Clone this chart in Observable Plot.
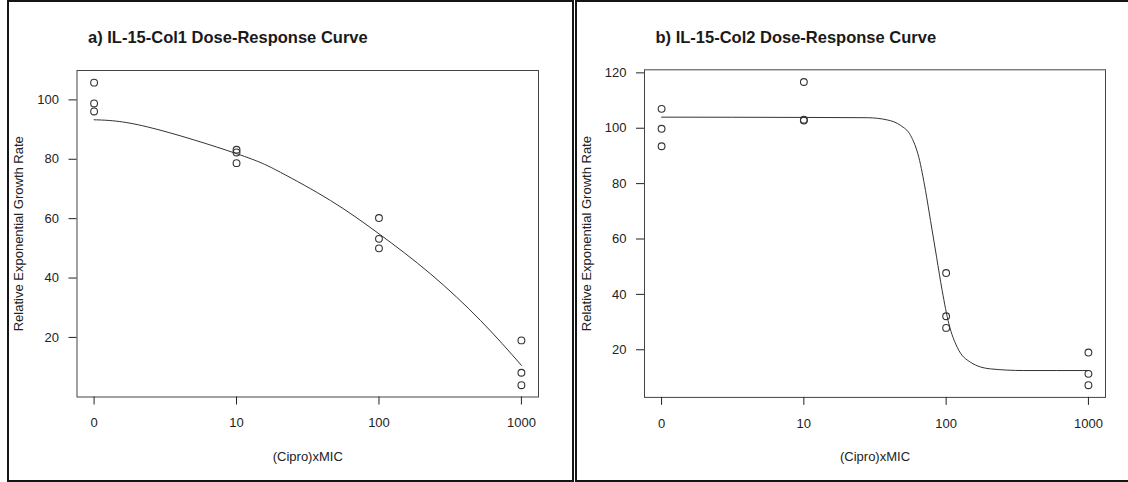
<!DOCTYPE html>
<html><head><meta charset="utf-8">
<script src="https://cdn.jsdelivr.net/npm/d3@7"></script>
<script src="https://cdn.jsdelivr.net/npm/@observablehq/plot@0.6"></script>
<style>
html,body{margin:0;padding:0;background:#fff;overflow:hidden;}
#root{position:relative;width:1128px;height:482px;overflow:hidden;font-family:"Liberation Sans",Arial,Helvetica,sans-serif;background:#fff;}
.panel{position:absolute;top:0;}
.border{position:absolute;top:0;height:482px;box-sizing:border-box;border:2px solid #151515;pointer-events:none;}
.title{position:absolute;font-weight:bold;font-size:16.5px;line-height:19px;color:#1a1a1a;white-space:nowrap;}
</style></head><body><div id="root"></div>
<script>
// x-axis categories (dose, xMIC) and their tick labels
const doseTicks = [0, 10, 100, 1000];
const doseTickLabels = ["0", "10", "100", "1000"];
// observations (3 replicates per dose)
const doses = [0, 0, 0, 10, 10, 10, 100, 100, 100, 1000, 1000, 1000];
const responseA = [105.8, 98.8, 96.1, 83.2, 82.3, 78.7, 60.2, 53.2, 50.0, 19.0, 8.1, 3.9];
const responseB = [107.0, 99.8, 93.5, 116.7, 103.1, 102.8, 47.7, 32.1, 27.9, 19.0, 11.3, 7.2];
// fitted curves (log10 dose position, response)
const curveA_logDose = [0, 0.375, 1, 1.309, 1.66, 2, 2.362, 2.713, 3];
const curveA_response = [93.3, 90.9, 81.9, 75.6, 66.1, 54.9, 41.4, 25.7, 10.6];
const curveB_logDose = [0, 1, 1.446, 1.586, 1.68, 1.75, 1.808, 1.855, 1.89, 1.933, 1.972, 2.019, 2.078, 2.171, 2.312, 2.546, 3];
const curveB_response = [104.0, 103.9, 103.8, 103.0, 101.0, 97.4, 89.5, 77.5, 66.7, 53.4, 41.4, 29.4, 20.9, 15.5, 13.1, 12.5, 12.5];
// y ticks
const yTicksA = [20, 40, 60, 80, 100];
const yTicksB = [20, 40, 60, 80, 100, 120];
const titleA = "a) IL-15-Col1 Dose-Response Curve";
const titleB = "b) IL-15-Col2 Dose-Response Curve";
const xLabel = "(Cipro)xMIC";
const yLabel = "Relative Exponential Growth Rate";

const FONT = '"Liberation Sans", Arial, Helvetica, sans-serif';
function xpos(d) { return d === 0 ? 0 : Math.log10(d); }

const root = document.getElementById("root");

function makePanel(o) {
  const pts = doses.map((d, i) => ({x: xpos(d), y: o.resp[i]}));
  const curve = o.cx.map((x, i) => ({x, y: o.cy[i]}));
  const chart = Plot.plot({
    width: o.width, height: 482,
    marginLeft: o.mL, marginRight: o.mR, marginTop: o.mT, marginBottom: o.mB,
    style: {fontFamily: FONT, fontSize: "13px", color: "#222", background: "transparent", overflow: "visible"},
    x: {domain: [-0.12, 3.12]},
    y: {domain: o.yDomain},
    marks: [
      Plot.frame({stroke: "#444", strokeWidth: 1}),
      Plot.axisX({ticks: doseTicks.map(xpos), tickFormat: d => doseTickLabels[Math.round(d)],
        tickSize: 8, tickPadding: 13, fontSize: 13, label: xLabel, labelAnchor: "center", labelOffset: 64, labelArrow: "none"}),
      Plot.axisY({ticks: o.yTicks, tickSize: 8, tickPadding: 10, fontSize: 13,
        label: yLabel, labelAnchor: "center", labelOffset: 63, labelArrow: "none"}),
      Plot.line(curve, {x: "x", y: "y", curve: o.curve, stroke: "#333", strokeWidth: 1}),
      Plot.dot(pts, {x: "x", y: "y", r: 3.4, stroke: "#333", strokeWidth: 1.1, fill: "none"})
    ]
  });
  const wrap = document.createElement("div");
  wrap.className = "panel";
  wrap.style.left = o.left + "px";
  wrap.appendChild(chart);
  root.appendChild(wrap);
  const t = document.createElement("div");
  t.className = "title";
  t.textContent = o.title;
  t.style.left = (o.left + o.mL + 11.5) + "px";
  t.style.top = "27.5px";
  root.appendChild(t);
}

makePanel({left: 0, width: 572, mL: 76.5, mR: 34, mT: 70, mB: 85.5, yDomain: [-0.07, 109.9],
  yTicks: yTicksA, resp: responseA, cx: curveA_logDose, cy: curveA_response, curve: "natural", title: titleA});
makePanel({left: 576, width: 552, mL: 68, mR: 23, mT: 69.3, mB: 85.1, yDomain: [2.8, 121.1],
  yTicks: yTicksB, resp: responseB, cx: curveB_logDose, cy: curveB_response, curve: "monotone-x", title: titleB});

const bA = document.createElement("div");
bA.className = "border"; bA.style.left = "7px"; bA.style.width = "567px";
root.appendChild(bA);
const bB = document.createElement("div");
bB.className = "border"; bB.style.left = "575px"; bB.style.width = "560px";
root.appendChild(bB);
</script></body></html>
